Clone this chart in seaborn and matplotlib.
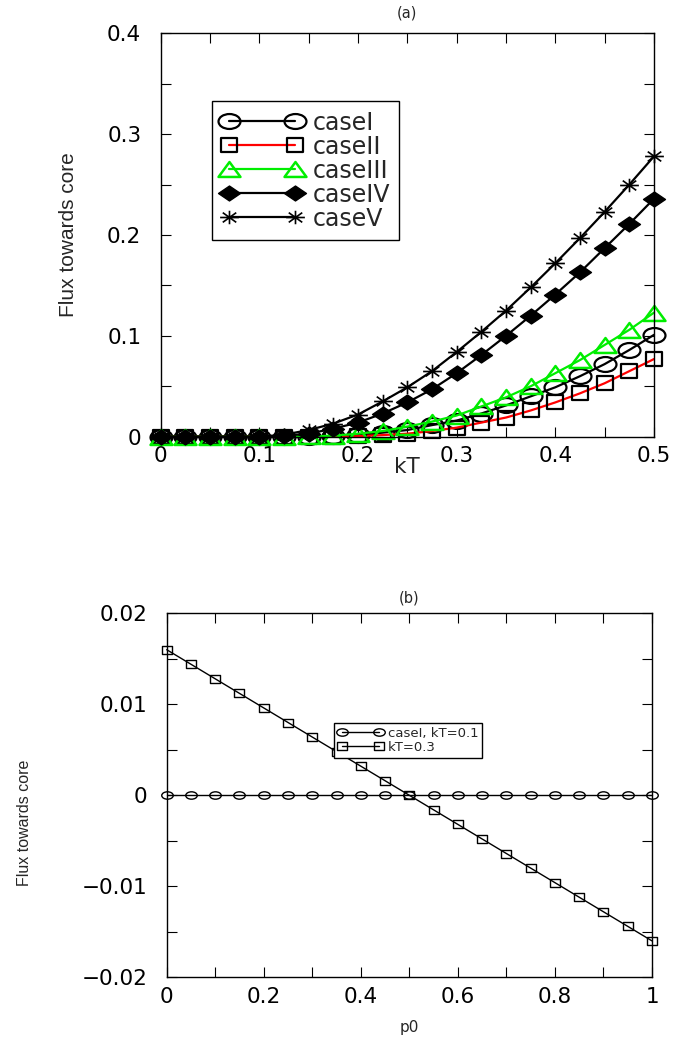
import numpy as np
import pandas as pd
import matplotlib
matplotlib.use("Agg")
import matplotlib.pyplot as plt
import seaborn as sns
from matplotlib.ticker import MultipleLocator, FuncFormatter
from matplotlib.path import Path

sns.set_style("ticks")
plt.rcParams['font.family'] = ['DejaVu Sans']

# ---------------- data: panel (a) ----------------
kT = [0.0, 0.025, 0.05, 0.075, 0.1, 0.125, 0.15, 0.175, 0.2, 0.225, 0.25,
      0.275, 0.3, 0.325, 0.35, 0.375, 0.4, 0.425, 0.45, 0.475, 0.5]
caseI = [0, 0, 0, 0, 0, 0, 0, 0.0003, 0.0016, 0.004, 0.0066,
         0.0115, 0.016, 0.023, 0.031, 0.040, 0.049, 0.060, 0.072, 0.086, 0.101]
caseII = [0, 0, 0, 0, 0, 0, 0, 0, 0.0005, 0.0016, 0.003,
          0.0056, 0.009, 0.014, 0.019, 0.026, 0.034, 0.043, 0.053, 0.065, 0.077]
caseIII = [0, 0, 0, 0, 0, 0, 0.0003, 0.001, 0.003, 0.0056, 0.010,
           0.015, 0.021, 0.030, 0.039, 0.050, 0.063, 0.076, 0.091, 0.106, 0.123]
caseIV = [0, 0, 0, 0, 0, 0.001, 0.003, 0.008, 0.014, 0.023, 0.034,
          0.047, 0.063, 0.081, 0.100, 0.120, 0.141, 0.163, 0.187, 0.211, 0.236]
caseV = [0, 0, 0, 0, 0, 0.002, 0.0066, 0.013, 0.022, 0.035, 0.049,
         0.065, 0.084, 0.104, 0.125, 0.148, 0.172, 0.197, 0.223, 0.250, 0.278]
labels_a = ["caseI", "caseII", "caseIII", "caseIV", "caseV"]

# ---------------- data: panel (b) ----------------
p0 = [0.0, 0.05, 0.1, 0.15, 0.2, 0.25, 0.3, 0.35, 0.4, 0.45, 0.5,
      0.55, 0.6, 0.65, 0.7, 0.75, 0.8, 0.85, 0.9, 0.95, 1.0]
flux_kT01 = [0, 0, 0, 0, 0, 0, 0, 0, 0, 0, 0, 0, 0, 0, 0, 0, 0, 0, 0, 0, 0]
flux_kT03 = [0.016, 0.0144, 0.0128, 0.0112, 0.0096, 0.008, 0.0064, 0.0048,
             0.0032, 0.0016, 0.0, -0.0016, -0.0032, -0.0048, -0.0064, -0.008,
             -0.0096, -0.0112, -0.0128, -0.0144, -0.016]
labels_b = ["caseI, kT=0.1", "kT=0.3"]


# ---- horizontally stretched marker shapes (the original is stretched) ----
def squash(path, sy):
    v = path.vertices.copy()
    v[:, 1] *= sy
    return Path(v, path.codes)

ell = lambda sy: squash(Path.unit_circle(), sy)
rect = lambda sy: squash(Path([(-1, -1), (1, -1), (1, 1), (-1, 1), (-1, -1)],
                              [1, 2, 2, 2, 79]), sy)
diam = squash(Path([(0, -1), (1, 0), (0, 1), (-1, 0), (0, -1)], [1, 2, 2, 2, 79]), 0.68)
tri = squash(Path([(-1, -1), (1, -1), (0, 1), (-1, -1)], [1, 2, 2, 79]), 0.68)
ast = squash(Path([(-1, 0), (1, 0), (0, -1), (0, 1), (-0.72, -0.72), (0.72, 0.72),
                   (-0.72, 0.72), (0.72, -0.72)], [1, 2, 1, 2, 1, 2, 1, 2]), 0.72)

W, H = 684, 1038
fig = plt.figure(figsize=(W / 100, H / 100), dpi=100)
fig.patch.set_facecolor("white")

ax1 = fig.add_axes([160.7 / W, 1 - 436.7 / H, 493.3 / W, 403.4 / H])
ax2 = fig.add_axes([166.7 / W, 1 - 977.3 / H, 485.3 / W, 364.0 / H])

df_a = pd.DataFrame({"kT": kT, "caseI": caseI, "caseII": caseII,
                     "caseIII": caseIII, "caseIV": caseIV, "caseV": caseV})

styles_a = [
    dict(color="black", marker=ell(0.68), mfc="none", mec="black", ms=15.8, mew=1.6),
    dict(color="#ff0000", marker=rect(0.8), mfc="none", mec="black", ms=11.8, mew=1.6),
    dict(color="#00ee00", marker=tri, mfc="none", mec="#00ee00", ms=15.8, mew=1.8),
    dict(color="black", marker=diam, mfc="black", mec="black", ms=15.8, mew=1.0),
    dict(color="black", marker=ast, mfc="none", mec="black", ms=13.5, mew=1.2),
]
for lab, st in zip(labels_a, styles_a):
    sns.lineplot(data=df_a, x="kT", y=lab, ax=ax1, label=lab, lw=1.6,
                 clip_on=False, **st)

ax1.set_xlim(0, 0.5)
ax1.set_ylim(0, 0.4)
ax1.xaxis.set_major_locator(MultipleLocator(0.1))
ax1.xaxis.set_minor_locator(MultipleLocator(0.05))
ax1.yaxis.set_major_locator(MultipleLocator(0.1))
ax1.yaxis.set_minor_locator(MultipleLocator(0.05))
fmt1 = FuncFormatter(lambda v, p: "0" if abs(v) < 1e-9 else f"{v:.1f}")
ax1.xaxis.set_major_formatter(fmt1)
ax1.yaxis.set_major_formatter(fmt1)
ax1.set_xlabel("kT", fontsize=15.5)
ax1.xaxis.set_label_coords(0.5, -0.075)
ax1.xaxis.label.set_va("center")
ax1.set_ylabel("Flux towards core", fontsize=15, family=["Liberation Sans", "DejaVu Sans"])
ax1.yaxis.label.set_va("center")
ax1.yaxis.set_label_coords(-0.186, 0.5)
ax1.set_title("(a)", fontsize=10.5, pad=11.5)

leg1 = ax1.legend(loc="upper left", bbox_to_anchor=(0.104, 0.832), borderaxespad=0,
                  numpoints=2, handlelength=3.4, handletextpad=0.45, labelspacing=0.0,
                  fontsize=17, frameon=True, fancybox=False, borderpad=0.4)
leg1.get_frame().set_edgecolor("black")
leg1.get_frame().set_linewidth(1.0)
leg1.get_frame().set_alpha(1)

# ---------------- panel (b) ----------------
df_b = pd.DataFrame({"p0": p0, "k01": flux_kT01, "k03": flux_kT03})
sns.lineplot(data=df_b, x="p0", y="k01", ax=ax2, label=labels_b[0], color="black",
             lw=1.0, marker=ell(0.64), mfc="none", mec="black", ms=8.3, mew=1.0,
             clip_on=False)
sns.lineplot(data=df_b, x="p0", y="k03", ax=ax2, label=labels_b[1], color="black",
             lw=1.0, marker=rect(0.8), mfc="none", mec="black", ms=6.8, mew=1.0,
             clip_on=False)
ax2.set_xlim(0, 1)
ax2.set_ylim(-0.02, 0.02)
ax2.xaxis.set_major_locator(MultipleLocator(0.2))
ax2.xaxis.set_minor_locator(MultipleLocator(0.1))
ax2.yaxis.set_major_locator(MultipleLocator(0.01))
ax2.yaxis.set_minor_locator(MultipleLocator(0.005))


def fmt_b_x(v, p):
    if abs(v) < 1e-9:
        return "0"
    if abs(v - 1) < 1e-9:
        return "1"
    return f"{v:.1f}"


def fmt_b_y(v, p):
    if abs(v) < 1e-9:
        return "0"
    return f"{v:.2f}".replace("-", "\u2212")


ax2.xaxis.set_major_formatter(FuncFormatter(fmt_b_x))
ax2.yaxis.set_major_formatter(FuncFormatter(fmt_b_y))
ax2.set_xlabel("p0", fontsize=11)
ax2.xaxis.set_label_coords(0.5, -0.139)
ax2.xaxis.label.set_va("center")
ax2.set_ylabel("Flux towards core", fontsize=11.5, family=["Liberation Sans", "DejaVu Sans"])
ax2.yaxis.label.set_va("center")
ax2.yaxis.set_label_coords(-0.294, 0.424)
ax2.set_title("(b)", fontsize=10.5, pad=8)

leg2 = ax2.legend(loc="upper left", bbox_to_anchor=(0.344, 0.6995), borderaxespad=0,
                  numpoints=2, handlelength=3.4, handletextpad=0.4, labelspacing=0.1,
                  fontsize=9.5, frameon=True, fancybox=False, borderpad=0.3)
leg2.get_frame().set_edgecolor("black")
leg2.get_frame().set_linewidth(1.0)
leg2.get_frame().set_alpha(1)

for ax in (ax1, ax2):
    for sp in ax.spines.values():
        sp.set_visible(True)
        sp.set_linewidth(1.0)
        sp.set_color("black")
    ax.tick_params(which="both", direction="in", top=True, right=True,
                   labelsize=15.5, width=0.8, colors="black", length=7)
    ax.tick_params(axis="y", pad=14)
    ax.tick_params(axis="x", pad=7)
    ax.grid(False)

fig.savefig("out.png", dpi=100, facecolor="white")
